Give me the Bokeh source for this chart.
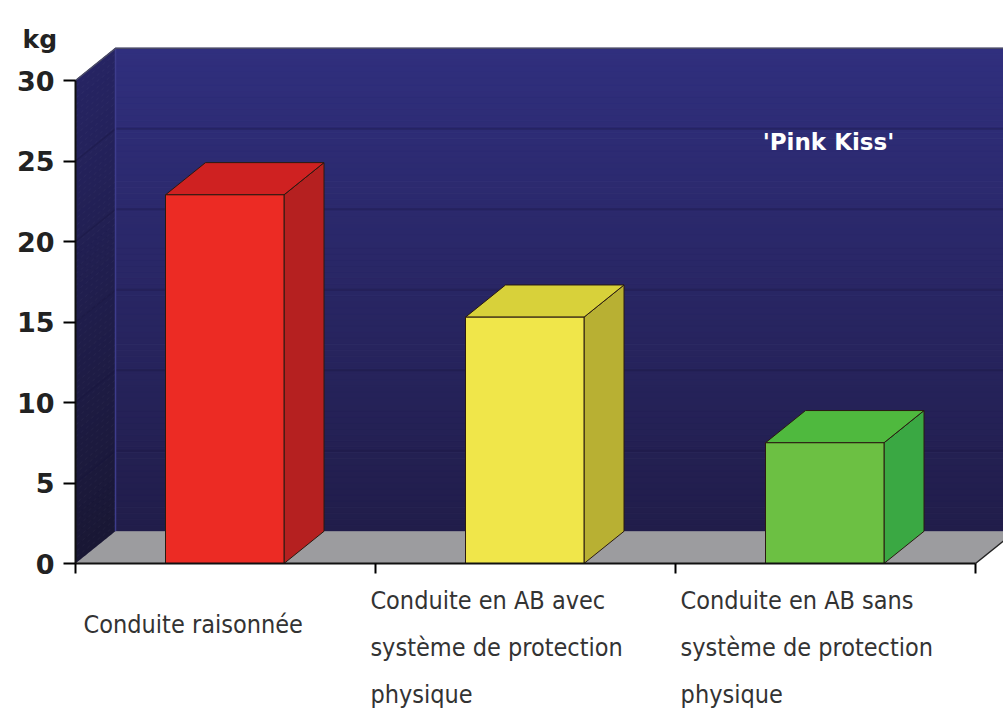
import numpy as np
from bokeh.plotting import figure
from bokeh.models import Range1d, FixedTicker
from bokeh.core.properties import value
from bokeh.embed import file_html
from bokeh.resources import INLINE

# ---- data -------------------------------------------------------------
categories = [
    "Conduite raisonnée",
    "Conduite en AB avec\nsystème de protection\nphysique",
    "Conduite en AB sans\nsystème de protection\nphysique",
]
values = [22.9, 15.3, 7.5]            # kg
y_ticks = [0, 5, 10, 15, 20, 25, 30]
unit_label = "kg"
series_label = "'Pink Kiss'"

front_colors = ["#ec2b24", "#f0e64a", "#6cc043"]
top_colors = ["#cf2121", "#d8d13a", "#4fb93e"]
side_colors = ["#b52020", "#b8b033", "#3aa843"]

# ---- geometry: the frame fills the canvas, axes sit at data 0 ---------
W, H = 1003, 711
ORIGIN_X, ORIGIN_Y = 75, 563   # pixel position of (0, 0)
PX_X = 300.0                   # pixels per category
PX_Y = 16.1                    # pixels per kg
DX = 40 / PX_X                 # depth offset, x
DY = 2.0                       # depth offset, kg
n_cat = len(categories)
y_top = y_ticks[-1]
x_lo, x_hi = -ORIGIN_X / PX_X, (W - ORIGIN_X) / PX_X
y_lo, y_hi = -(H - ORIGIN_Y) / PX_Y, ORIGIN_Y / PX_Y

p = figure(width=W, height=H, output_backend="svg", toolbar_location=None,
           x_range=Range1d(x_lo, x_hi), y_range=Range1d(y_lo, y_hi),
           min_border=0)
p.title.visible = False
p.outline_line_color = None
p.grid.visible = False
p.background_fill_color = "white"
p.border_fill_color = "white"


def mix(c1, c2, t):
    a = np.array([int(c1[i:i + 2], 16) for i in (1, 3, 5)])
    b = np.array([int(c2[i:i + 2], 16) for i in (1, 3, 5)])
    c = (a + (b - a) * t).round().astype(int)
    return "#%02x%02x%02x" % tuple(c)


# back wall with a vertical gradient
n_strips = 80
edges = np.linspace(DY, y_top + DY, n_strips + 1)
wall_cols = [mix("#211d4a", "#302f7e", (k + 0.5) / n_strips) for k in range(n_strips)]
p.quad(left=DX, right=x_hi + 0.1, bottom=edges[:-1], top=edges[1:],
       fill_color=wall_cols, line_color=wall_cols, line_width=1)

# left side wall
side_edges = np.linspace(0, y_top, n_strips + 1)
xs, ys, side_cols = [], [], []
for k in range(n_strips):
    a, b = side_edges[k], side_edges[k + 1]
    xs.append([0, 0, DX, DX])
    ys.append([a, b, b + DY, a + DY])
    side_cols.append(mix("#191734", "#262463", (k + 0.5) / n_strips))
p.patches(xs, ys, fill_color=side_cols, line_color=side_cols, line_width=1)

# faint gridlines on both walls
for t in y_ticks[1:-1]:
    p.segment(x0=DX, y0=t + DY, x1=x_hi + 0.1, y1=t + DY,
              line_color="#17153a", line_alpha=0.3, line_width=2)
    p.segment(x0=0, y0=t, x1=DX, y1=t + DY,
              line_color="#17153a", line_alpha=0.3, line_width=1.5)

# wall edges
p.line([DX, DX], [DY, y_top + DY], line_color="#3d3c8c", line_width=1.5)
p.line([0, DX, x_hi + 0.1], [y_top, y_top + DY, y_top + DY],
       line_color="#4a4a66", line_width=1.5)

# floor
p.patch([0, n_cat, n_cat + DX, DX], [0, 0, DY, DY],
        fill_color="#9c9c9f", line_color=None)
p.segment(x0=n_cat, y0=0, x1=n_cat + DX, y1=DY, line_color="#222222", line_width=1.5)

# 3-D bars
bar_l, bar_w = 0.3, 0.395
for i, v in enumerate(values):
    l = i + bar_l
    r = l + bar_w
    p.patch([r, r + DX, r + DX, r], [0, DY, v + DY, v],
            fill_color=side_colors[i], line_color="#2a1a10", line_width=1)
    p.patch([l, r, r + DX, l + DX], [v, v, v + DY, v + DY],
            fill_color=top_colors[i], line_color="#2a1a10", line_width=1)
    p.quad(left=l, right=r, bottom=0, top=v,
           fill_color=front_colors[i], line_color="#2a1a10", line_width=1)

# axes, pinned to the data origin
p.yaxis.fixed_location = 0
p.yaxis.ticker = FixedTicker(ticks=y_ticks)
p.yaxis.bounds = (0, y_top)
p.yaxis.axis_line_color = "#111111"
p.yaxis.axis_line_width = 2
p.yaxis.major_tick_out = 12
p.yaxis.major_tick_in = 0
p.yaxis.major_tick_line_width = 2
p.yaxis.minor_tick_line_color = None
p.yaxis.major_label_standoff = 9
p.yaxis.major_label_text_font = "DejaVu Sans"
p.yaxis.major_label_text_font_style = "bold"
p.yaxis.major_label_text_font_size = "27px"
p.yaxis.major_label_text_color = "#222222"

p.xaxis.fixed_location = 0
p.xaxis.ticker = FixedTicker(ticks=list(range(n_cat + 1)))
p.xaxis.bounds = (0, n_cat)
p.xaxis.axis_line_color = "#111111"
p.xaxis.axis_line_width = 2
p.xaxis.major_tick_out = 10
p.xaxis.major_tick_in = 0
p.xaxis.major_tick_line_width = 2
p.xaxis.minor_tick_line_color = None
p.xaxis.major_label_overrides = {k: "" for k in range(n_cat + 1)}

# unit label above the value axis
p.text(x=[-53 / PX_X], y=[(ORIGIN_Y - 39) / PX_Y], text=[unit_label],
       text_font=value("DejaVu Sans"), text_font_style="bold",
       text_font_size=value("25px"), text_color="#222222",
       text_align="left", text_baseline="alphabetic")

# series label on the back wall
p.text(x=[2.51], y=[26.15], text=[series_label],
       text_font=value("DejaVu Sans"), text_font_style="bold",
       text_font_size=value("23px"), text_color="white",
       text_align="center", text_baseline="middle")

# category labels under the floor
label_x = [i + d for i, d in enumerate([0.027, -0.017, 0.017])]
label_y = [-2.9, -1.37, -1.37]
p.text(x=label_x, y=label_y, text=categories,
       text_font=value("DejaVu Sans Condensed"), text_font_size=value("25px"),
       text_color="#333333", text_align="left", text_baseline="top",
       text_line_height=1.62)

open("out.html", "w").write(file_html(p, INLINE))
